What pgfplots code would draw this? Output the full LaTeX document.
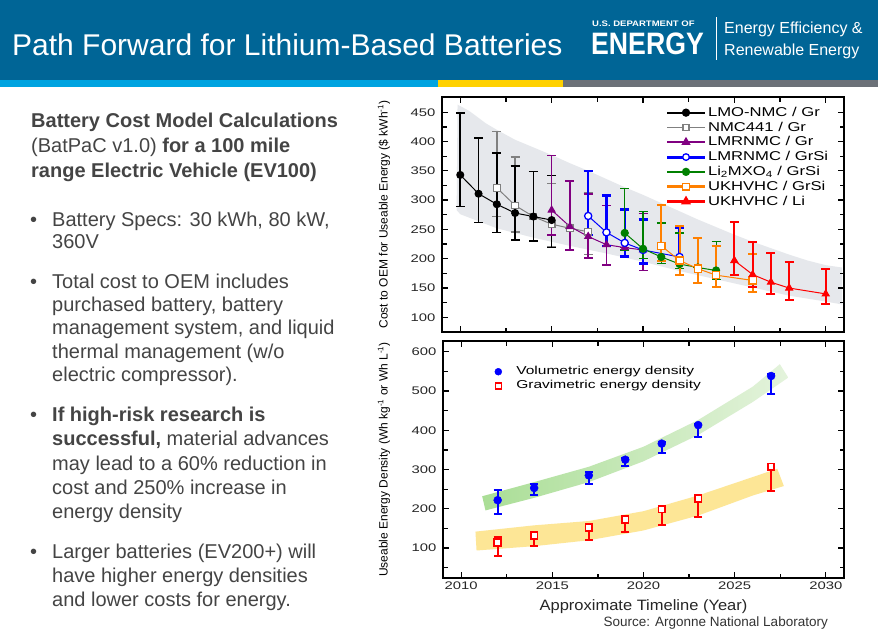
\documentclass[border=0pt]{standalone}
\usepackage{fontspec}
\setmainfont{Liberation Sans}
\newfontfamily\widefont[FakeStretch=1.35]{Liberation Sans}
\newfontfamily\legfont[FakeStretch=1.3]{Liberation Sans}
\newfontfamily\lblfont[FakeStretch=1.1]{Liberation Sans}
\usepackage{pgfplots}
\pgfplotsset{compat=1.18}

\definecolor{doeblue}{RGB}{0,101,150}
\definecolor{stripeblue}{RGB}{0,163,224}
\definecolor{stripeyellow}{RGB}{255,209,0}
\definecolor{stripegray}{RGB}{108,113,120}
\definecolor{txtgray}{RGB}{68,68,68}
\definecolor{bandgray}{RGB}{230,232,236}
\definecolor{orangeC}{RGB}{255,128,0}
\definecolor{purpleC}{RGB}{128,0,128}
\definecolor{greenC}{RGB}{0,128,0}
\definecolor{grayC}{RGB}{128,128,128}
\definecolor{blueC}{RGB}{0,0,255}
\definecolor{redC}{RGB}{255,0,0}
\definecolor{bandgreenL}{RGB}{170,222,150}
\definecolor{bandgreenR}{RGB}{228,243,220}
\definecolor{bandyellow}{RGB}{253,230,150}

\pgfplotsset{
  ebar/.style n args={3}{error bars/.cd, y dir=both, y explicit,
     error mark=-,
     error bar style={line width=#1, #3, solid},
     error mark options={rotate=90, line width=#1, mark size=#2, #3, solid}},
  myaxis/.style={scale only axis, xmin=2009, xmax=2031,
     axis line style={line width=1.8pt},
     tick align=inside, major tick length=6pt, minor tick length=4.5pt,
     tick style={line width=1.3pt, black},
     xtick={2010,2015,2020,2025,2030},
     minor xtick={2012.5,2017.5,2022.5,2027.5},
     yticklabel style={font=\widefont\fontsize{11}{12}\selectfont, text=black!85, xshift=-3pt},
     xticklabel style={font=\widefont\fontsize{11}{12}\selectfont, text=black!85},
     /pgf/number format/assume math mode=true,
     /pgf/number format/1000 sep={},
     axis on top, clip=true},
}

\begin{document}
\begin{tikzpicture}
\useasboundingbox (0pt,0pt) rectangle (878pt,-637pt);
\fill[white] (0pt,0pt) rectangle (878pt,-637pt);
% header
\fill[doeblue] (0pt,0pt) rectangle (878pt,-80pt);
\fill[stripeblue] (0pt,-80pt) rectangle (438pt,-87pt);
\fill[stripeyellow] (438pt,-80pt) rectangle (563pt,-87pt);
\fill[stripegray] (563pt,-80pt) rectangle (878pt,-87pt);
\node[anchor=base west, inner sep=0pt, text=white, font=\fontsize{30}{34}\selectfont] at (12pt,-55pt) {Path Forward for Lithium-Based Batteries};
\node[anchor=base west, inner sep=0pt, text=white, font=\bfseries\fontsize{8}{9}\selectfont] at (592pt,-27pt) {\scalebox{1.19}[1]{U.S. DEPARTMENT OF}};
\node[anchor=base west, inner sep=0pt, text=white, font=\bfseries\fontsize{31}{34}\selectfont] at (591pt,-54pt) {\scalebox{0.86}[1]{ENERGY}};
\draw[white, line width=0.8pt] (716pt,-17pt) -- (716pt,-60pt);
\node[anchor=base west, inner sep=0pt, text=white, font=\fontsize{16}{18}\selectfont] at (724pt,-33pt) {Energy Efficiency \&};
\node[anchor=base west, inner sep=0pt, text=white, font=\fontsize{16}{18}\selectfont] at (724pt,-55pt) {Renewable Energy};

% left text
\begin{scope}[every node/.style={anchor=base west, inner sep=0pt, text=txtgray, font=\fontsize{20}{24}\selectfont}]
\node at (31pt,-127pt) {\textbf{Battery Cost Model Calculations}};
\node at (31pt,-152.5pt) {(BatPaC v1.0) \textbf{for a 100 mile}};
\node at (31pt,-177pt) {\textbf{range Electric Vehicle (EV100)}};
\node at (30pt,-226pt) {\textbullet};
\node at (52pt,-226pt) {Battery Specs: 30 kWh, 80 kW,};
\node at (52pt,-248.5pt) {360V};
\node at (30pt,-288pt) {\textbullet};
\node at (52pt,-288pt) {Total cost to OEM includes};
\node at (52pt,-311pt) {purchased battery, battery};
\node at (52pt,-334.5pt) {management system, and liquid};
\node at (52pt,-358pt) {thermal management (w/o};
\node at (52pt,-381.5pt) {electric compressor).};
\node at (30pt,-421.5pt) {\textbullet};
\node at (52pt,-421.5pt) {\textbf{If high-risk research is}};
\node at (52pt,-445.5pt) {\textbf{successful,} material advances};
\node at (52pt,-470pt) {may lead to a 60\% reduction in};
\node at (52pt,-494pt) {cost and 250\% increase in};
\node at (52pt,-518pt) {energy density};
\node at (30pt,-558pt) {\textbullet};
\node at (52pt,-558pt) {Larger batteries (EV200+) will};
\node at (52pt,-582pt) {have higher energy densities};
\node at (52pt,-606pt) {and lower costs for energy.};
\end{scope}

% ---------------- top axis ----------------
\begin{axis}[myaxis,
  at={(442pt,-97pt)}, anchor=north west, width=402pt, height=235pt,
  ymin=75, ymax=476,
  ytick={100,150,...,450}, minor ytick={125,175,...,425},
  xticklabels={},
  every axis y label/.style={at={(rel axis cs:-0.1443,0.5)}, anchor=center, rotate=90,
     font=\fontsize{12}{13}\selectfont, text=black},
  ylabel={Cost to OEM for Useable Energy (\$ kWh\textsuperscript{-1})},
  legend style={at={(0.553,0.97)}, anchor=north west, draw=none, fill=none,
     font=\legfont\fontsize{12.8}{13}\selectfont, row sep=0pt, inner sep=1pt,
     nodes={text height=9.8pt, text depth=2.6pt, inner ysep=1.2pt, inner xsep=1.5pt}},
  legend cell align=left,
  legend image code/.code={\draw[#1] (0pt,0pt) -- (38pt,0pt); \draw[#1] plot coordinates {(19pt,0pt)};},
]
\addplot[draw=none, fill=bandgray, forget plot] coordinates {
(2009.85,463) (2010.5,452) (2011.4,431) (2012,420) (2013,403) (2014,390) (2015,377)
(2016,363) (2017,350) (2018,336) (2019,322) (2020,309) (2021,295) (2022,281) (2023,267)
(2024,254) (2025,241) (2026,229) (2027,218) (2028,207) (2029,197) (2030,189) (2030.9,185)
(2030.9,122) (2030,127) (2028,137) (2026,151) (2025,158) (2024,165) (2022,179) (2020,195)
(2018,209) (2016,222) (2015,229) (2014,236) (2012,252) (2011,264) (2010,276) (2009.8,283)
} -- cycle;

\addlegendimage{black, line width=1.8pt, mark=*, mark size=3.2pt}
\addlegendentry{LMO-NMC / Gr}
\addlegendimage{grayC, line width=1.8pt, mark=square*, mark size=3pt, mark options={fill=white, line width=1.2pt}}
\addlegendentry{NMC441 / Gr}
\addlegendimage{purpleC, line width=1.8pt, mark=triangle*, mark size=3.6pt}
\addlegendentry{LMRNMC / Gr}
\addlegendimage{blueC, line width=3pt, mark=*, mark size=3.3pt, mark options={fill=white, line width=1.3pt}}
\addlegendentry{LMRNMC / GrSi}
\addlegendimage{greenC, line width=1.8pt, mark=*, mark size=3.2pt}
\addlegendentry{Li\textsubscript{2}MXO\textsubscript{4} / GrSi}
\addlegendimage{orangeC, line width=3pt, mark=square*, mark size=3.3pt, mark options={fill=white, line width=1.3pt}}
\addlegendentry{UKHVHC / GrSi}
\addlegendimage{redC, line width=2.2pt, mark=triangle*, mark size=3.6pt}
\addlegendentry{UKHVHC / Li}

% NMC441 / Gr
\addplot[grayC, line width=1pt, mark=square*, mark size=3.3pt, mark options={fill=white, line width=1.2pt}, forget plot, ebar={1.5pt}{4.5pt}{grayC}] coordinates {
(2012,321) += (0,96) -= (0,49)
(2013,291) += (0,83) -= (0,45)
(2014,272) += (0,77) -= (0,42)
(2015,259) += (0,69) -= (0,38)
(2016,252) += (0,0) -= (0,0)
(2017,246) += (0,67) -= (0,39)
};
% LMO-NMC / Gr
\addplot[black, line width=1pt, mark=*, mark size=3.5pt, forget plot, ebar={1.6pt}{4.5pt}{black}] coordinates {
(2010,343) += (0,106) -= (0,54)
(2011,311) += (0,95) -= (0,49)
(2012,293) += (0,87) -= (0,48)
(2013,278) += (0,80) -= (0,46)
(2014,272) += (0,77) -= (0,42)
(2015,266) += (0,76) -= (0,47)
};
% LMRNMC / Gr
\addplot[purpleC, line width=1pt, mark=triangle*, mark size=4pt, forget plot, ebar={1.6pt}{4.5pt}{purpleC}] coordinates {
(2015,283) += (0,93) -= (0,42)
(2016,255) += (0,78) -= (0,40)
(2017,238) += (0,72) -= (0,37)
(2018,224) += (0,67) -= (0,35)
(2019,219) += (0,0) -= (0,0)
(2020,215) += (0,62) -= (0,35)
};
% LMRNMC / GrSi
\addplot[blueC, line width=1pt, mark=*, mark size=3.6pt, mark options={fill=white, line width=1.3pt}, forget plot, ebar={2.3pt}{4.5pt}{blueC}] coordinates {
(2017,273) += (0,77) -= (0,33)
(2018,245) += (0,63) -= (0,23)
(2019,227) += (0,57) -= (0,23)
(2020,215) += (0,52) -= (0,23)
(2022,203) += (0,50) -= (0,8)
};
% Li2MXO4 / GrSi
\addplot[greenC, line width=1pt, mark=*, mark size=3.6pt, forget plot, ebar={1.1pt}{4.5pt}{greenC}] coordinates {
(2019,244) += (0,76) -= (0,29)
(2020,217) += (0,64) -= (0,17)
(2021,203) += (0,58) -= (0,11)
(2022,191) += (0,53) -= (0,8)
(2023,185) += (0,0) -= (0,0)
(2024,180) += (0,49) -= (0,15)
};
% UKHVHC / GrSi
\addplot[orangeC, line width=1pt, mark=square*, mark size=3.6pt, mark options={fill=white, line width=1.3pt}, forget plot, ebar={2pt}{4.5pt}{orangeC}] coordinates {
(2021,222) += (0,70) -= (0,26)
(2022,197) += (0,59) -= (0,24)
(2023,183) += (0,53) -= (0,24)
(2024,172) += (0,49) -= (0,21)
(2026,163) += (0,45) -= (0,20)
};
% UKHVHC / Li
\addplot[redC, line width=1pt, mark=triangle*, mark size=4pt, forget plot, ebar={2pt}{4.5pt}{redC}] coordinates {
(2025,197) += (0,65) -= (0,25)
(2026,173) += (0,55) -= (0,22)
(2027,160) += (0,49) -= (0,20)
(2028,150) += (0,44) -= (0,21)
(2030,140) += (0,43) -= (0,18)
};
\end{axis}

% ---------------- bottom axis ----------------
\begin{axis}[myaxis,
  at={(443pt,-341pt)}, anchor=north west, width=401pt, height=237pt,
  ymin=24, ymax=627,
  ytick={100,200,...,600}, minor ytick={50,150,...,550},
  every axis y label/.style={at={(rel axis cs:-0.1471,0.5)}, anchor=center, rotate=90,
     font=\fontsize{12}{13}\selectfont, text=black},
  ylabel={Useable Energy Density (Wh kg\textsuperscript{-1} or Wh L\textsuperscript{-1})},
  every axis x label/.style={at={(rel axis cs:0.5,-0.135)}, anchor=base,
     font=\lblfont\fontsize{15}{16}\selectfont, text=black!85},
  xlabel={Approximate Timeline (Year)},
  legend style={at={(0.12,0.905)}, anchor=north west, draw=none, fill=none,
     font=\widefont\fontsize{11.5}{12}\selectfont, row sep=0pt, inner sep=1pt,
     nodes={text height=8.5pt, text depth=2.5pt, inner ysep=1.5pt, inner xsep=2pt}},
  legend cell align=left,
  legend image code/.code={\path[draw=none] (0pt,0pt) (22pt,0pt); \draw[#1] plot coordinates {(6pt,0pt)};},
]
\addplot[draw=none, left color=bandgreenL, right color=bandgreenR, forget plot] coordinates {
(2011.15,232) (2014,268) (2017,307) (2020,358) (2023,426) (2026,511) (2027.48,568)
(2027.94,534) (2026,472) (2023,388) (2020,321) (2017,268) (2014,228) (2011.33,196)
} -- cycle;
\addplot[draw=none, fill=bandyellow, forget plot] coordinates {
(2010.78,142) (2014,158) (2017,169) (2020,194) (2023,234) (2026,281) (2027.34,302)
(2027.7,258) (2026,234) (2023,183) (2020,145) (2017,120) (2014,105) (2010.84,94)
} -- cycle;
\addlegendimage{only marks, blueC, mark=*, mark size=3.5pt}
\addlegendentry{Volumetric energy density}
\addlegendimage{only marks, redC, mark=square, mark size=3pt, mark options={line width=1.6pt}}
\addlegendentry{Gravimetric energy density}
\addplot[only marks, blueC, mark=*, mark size=4pt, forget plot, ebar={2pt}{4pt}{blueC}] coordinates {
(2012,222) += (0,25) -= (0,36)
(2014,253) += (0,9) -= (0,19)
(2017,285) += (0,9) -= (0,22)
(2019,325) += (0,5) -= (0,17)
(2021,366) += (0,4) -= (0,24)
(2023,413) += (0,4) -= (0,31)
(2027,538) += (0,4) -= (0,46)
};
\addplot[only marks, redC, mark=square*, mark size=3.3pt, mark options={fill=white, line width=1.8pt}, forget plot, ebar={2pt}{4pt}{redC}] coordinates {
(2012,114) += (0,14) -= (0,34)
(2014,132) += (0,4) -= (0,27)
(2017,152) += (0,3) -= (0,32)
(2019,173) += (0,4) -= (0,31)
(2021,199) += (0,3) -= (0,41)
(2023,226) += (0,4) -= (0,47)
(2027,307) += (0,1) -= (0,62)
};
\end{axis}

\node[anchor=base east, inner sep=0pt, text=black!80, font=\fontsize{13.5}{15}\selectfont] at (828pt,-626pt) {Source: Argonne National Laboratory};
\end{tikzpicture}
\end{document}
